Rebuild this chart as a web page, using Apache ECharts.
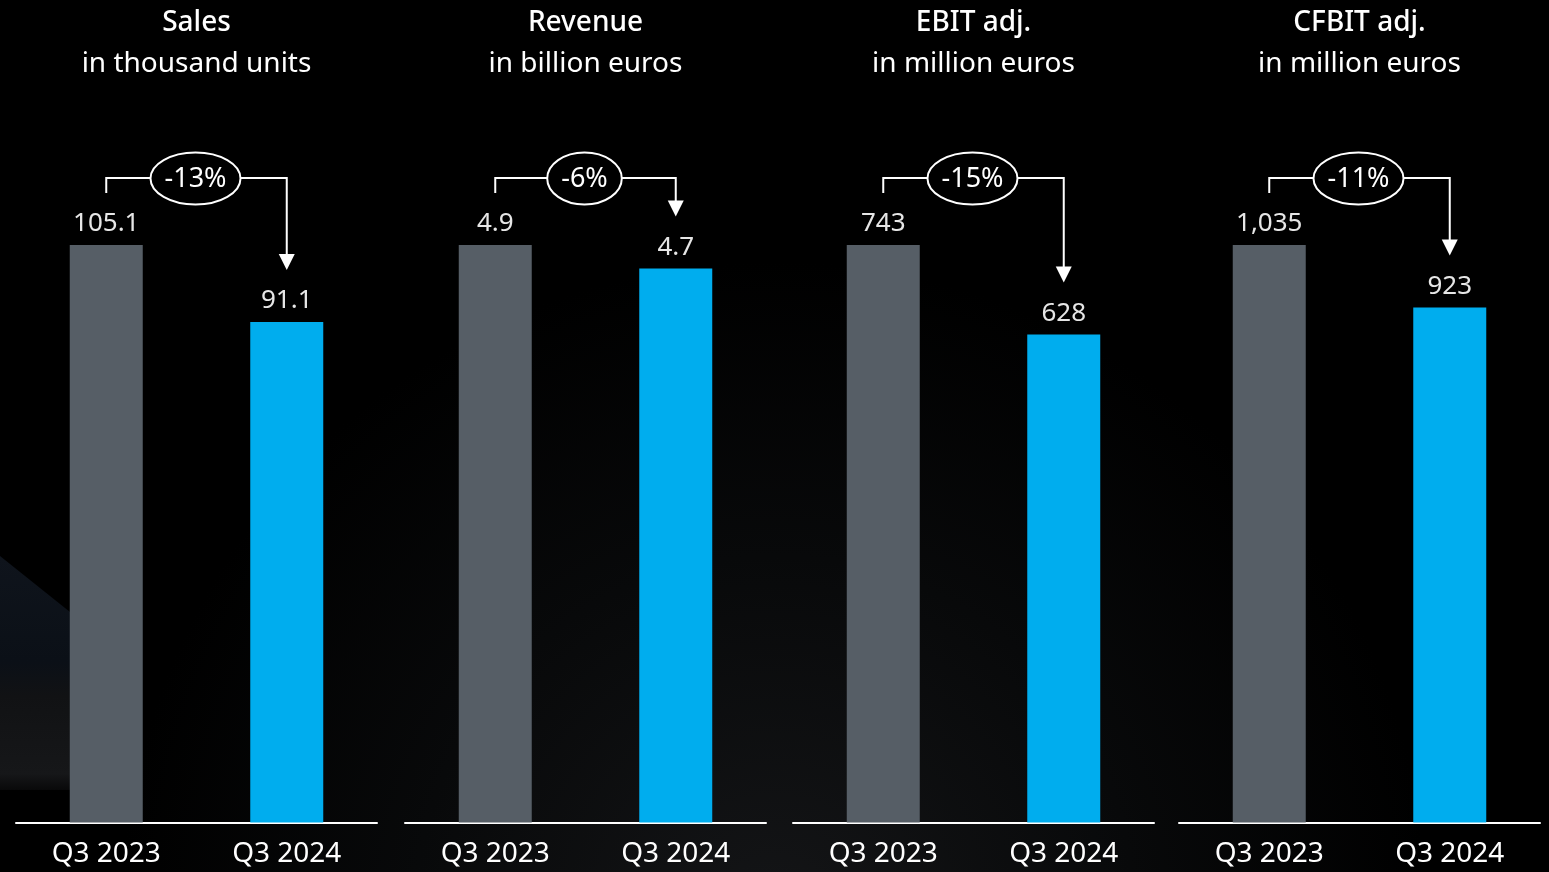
<!DOCTYPE html>
<html>
<head>
<meta charset="utf-8">
<style>
  html, body { margin: 0; padding: 0; background: #000; }
  #chart { width: 1549px; height: 872px; }
</style>
<script src="https://cdn.jsdelivr.net/npm/echarts@6/dist/echarts.min.js"></script>
</head>
<body>
<div id="chart"></div>
<script>
// Quarterly key figures, Q3 2024 vs Q3 2023
const periods = ['Q3 2023', 'Q3 2024'];
const titles = ['Sales', 'Revenue', 'EBIT adj.', 'CFBIT adj.'];
const units = ['in thousand units', 'in billion euros', 'in million euros', 'in million euros'];
const salesValues = [105.1, 91.1];
const revenueValues = [4.9, 4.7];
const ebitValues = [743, 628];
const cfbitValues = [1035, 923];
const valueLabels = [['105.1', '91.1'], ['4.9', '4.7'], ['743', '628'], ['1,035', '923']];
const changeLabels = ['-13%', '-6%', '-15%', '-11%'];

const panels = [salesValues, revenueValues, ebitValues, cfbitValues];
const FONT = '"Noto Sans", "DejaVu Sans", sans-serif';
const GRAY = '#565e66';
const BLUE = '#00adee';

const gridLefts = [16, 405, 793, 1179];
const gridWidth = 361;
const gridTop = 245;
const gridBottom = 49.5;

const chart = echarts.init(document.getElementById('chart'), null, { renderer: 'canvas' });

const option = {
  backgroundColor: {
    type: 'radial', x: 0.5, y: 1.05, r: 0.75,
    colorStops: [
      { offset: 0, color: '#141517' },
      { offset: 0.55, color: '#08090a' },
      { offset: 1, color: '#000000' }
    ]
  },
  animation: false,
  grid: gridLefts.map(l => ({ left: l, width: gridWidth, top: gridTop, bottom: gridBottom })),
  xAxis: panels.map((_, i) => ({
    type: 'category',
    gridIndex: i,
    data: periods,
    axisLine: { lineStyle: { color: '#ffffff', width: 2 } },
    axisTick: { show: false },
    axisLabel: { color: '#ffffff', fontFamily: FONT, fontSize: 28, margin: 18 }
  })),
  yAxis: panels.map((vals, i) => ({
    type: 'value',
    gridIndex: i,
    min: 0,
    max: vals[0],
    show: false,
    splitLine: { show: false }
  })),
  series: panels.map((vals, i) => ({
    type: 'bar',
    xAxisIndex: i,
    yAxisIndex: i,
    barWidth: 73,
    z: 5,
    data: vals.map((v, j) => ({
      value: v,
      itemStyle: { color: j === 0 ? GRAY : BLUE },
      label: {
        show: true,
        position: 'top',
        distance: 8,
        formatter: valueLabels[i][j],
        color: '#e6e6e6',
        fontFamily: FONT,
        fontSize: 26
      }
    }))
  }))
};

chart.setOption(option);

const graphics = [];

// Dim vehicle silhouette in the lower left corner of the backdrop
graphics.push({
  type: 'polygon',
  shape: { points: [[0, 556], [70, 612], [70, 790], [0, 790]] },
  style: {
    fill: {
      type: 'linear', x: 0, y: 0, x2: 0, y2: 1,
      colorStops: [
        { offset: 0, color: '#0f141c' },
        { offset: 0.45, color: '#0b1017' },
        { offset: 0.6, color: '#111214' },
        { offset: 0.93, color: '#161719' },
        { offset: 1, color: '#09090a' }
      ]
    }
  },
  z: 0
});

// Panel headings
titles.forEach((t, i) => {
  const cx = gridLefts[i] + gridWidth / 2;
  graphics.push({
    type: 'text', x: cx, y: 23,
    style: { text: t, fill: '#ffffff', font: '500 28px ' + FONT, align: 'center', verticalAlign: 'middle' },
    z: 12
  });
  graphics.push({
    type: 'text', x: cx, y: 64,
    style: { text: units[i], fill: '#ffffff', font: '28px ' + FONT, align: 'center', verticalAlign: 'middle' },
    z: 12
  });
});

// Change brackets between the two bars of each panel
const measureCtx = document.createElement('canvas').getContext('2d');
measureCtx.font = '27px ' + FONT;

panels.forEach((vals, i) => {
  const p0 = chart.convertToPixel({ gridIndex: i }, [0, vals[0]]);
  const p1 = chart.convertToPixel({ gridIndex: i }, [1, vals[1]]);
  const x0 = p0[0], x1 = p1[0];
  const lineY = 178;
  const tipY = p1[1] - 52;
  const headH = 16, headW = 8;
  const cx = gridLefts[i] + gridWidth / 2 - 1;
  const rx = measureCtx.measureText(changeLabels[i]).width / 2 + 14;

  graphics.push({
    type: 'polyline',
    shape: { points: [[x0, 193], [x0, lineY], [x1, lineY], [x1, tipY - headH + 1]] },
    style: { stroke: '#ffffff', lineWidth: 2, fill: null },
    z: 10
  });
  graphics.push({
    type: 'polygon',
    shape: { points: [[x1 - headW, tipY - headH], [x1 + headW, tipY - headH], [x1, tipY]] },
    style: { fill: '#ffffff' },
    z: 10
  });
  graphics.push({
    type: 'ellipse',
    shape: { cx: cx, cy: lineY + 0.5, rx: rx, ry: 26 },
    style: { fill: '#000000', stroke: '#ffffff', lineWidth: 2 },
    z: 11
  });
  graphics.push({
    type: 'text',
    x: cx,
    y: lineY + 1,
    style: {
      text: changeLabels[i],
      fill: '#ffffff',
      font: '27px ' + FONT,
      align: 'center',
      verticalAlign: 'middle'
    },
    z: 12
  });
});

chart.setOption({ graphic: graphics });
</script>
</body>
</html>
